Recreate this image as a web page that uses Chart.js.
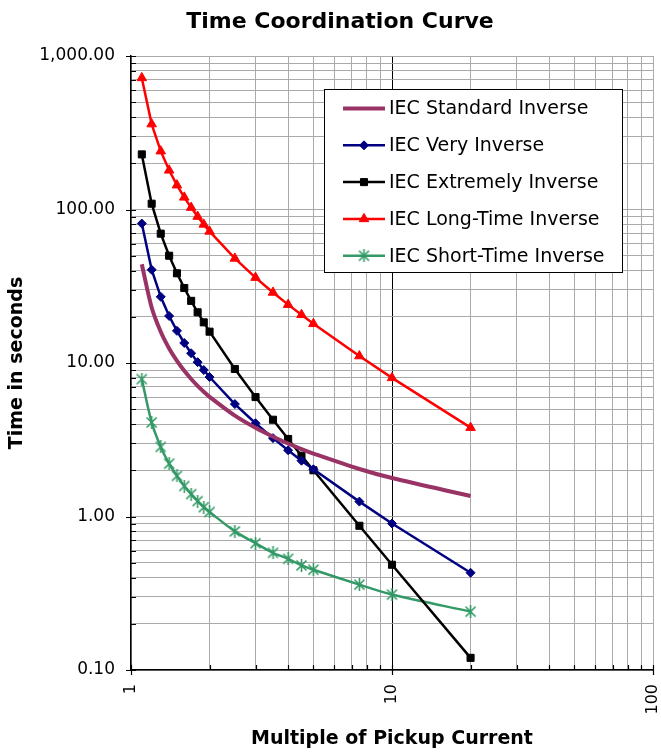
<!DOCTYPE html>
<html><head><meta charset="utf-8">
<script src="https://cdn.jsdelivr.net/npm/chart.js@4.4.1/dist/chart.umd.min.js"></script>
<style>html,body{margin:0;padding:0;background:#fff;}canvas{display:block;}</style>
</head><body>
<canvas id="c" width="661" height="753"></canvas>
<script>
// ---- data ----
const multiples = [1.1,1.2,1.3,1.4,1.5,1.6,1.7,1.8,1.9,2,2.5,3,3.5,4,4.5,5,7.5,10,20];
const standardInverse = [44.0,23.0,15.97,12.44,10.32,8.89,7.87,7.10,6.50,6.02,4.54,3.78,3.31,2.99,2.75,2.57,2.04,1.78,1.36];
const veryInverse = [81,40.5,27,20.25,16.2,13.5,11.57,10.13,9.0,8.1,5.4,4.05,3.24,2.7,2.31,2.03,1.25,0.90,0.43];
const extremelyInverse = [228.6,109.1,69.6,50.0,38.4,30.8,25.4,21.4,18.4,16.0,9.14,6.0,4.27,3.2,2.49,2.0,0.87,0.485,0.12];
const longTimeInverse = [720,360,240,180,144,120,102.9,90,80,72,48,36,28.8,24,20.6,18,11.1,8.0,3.79];
const shortTimeInverse = [7.85,4.10,2.84,2.21,1.84,1.58,1.40,1.26,1.15,1.07,0.80,0.67,0.58,0.53,0.48,0.45,0.36,0.31,0.24];
const seriesNames = ['IEC Standard Inverse','IEC Very Inverse','IEC Extremely Inverse','IEC Long-Time Inverse','IEC Short-Time Inverse'];
const chartTitle = 'Time Coordination Curve';
const xTickValues = [1,10,100];
const xTickLabels = ['1','10','100'];
const yTickValues = [0.1,1,10,100,1000];
const yTickLabels = ['0.10','1.00','10.00','100.00','1,000.00'];

const FONT = "'DejaVu Sans', Verdana, sans-serif";
Chart.defaults.font.family = FONT;
Chart.defaults.color = '#000';

function makeAsterisk(color){
  const s = 13, c = document.createElement('canvas');
  c.width = s; c.height = s;
  const g = c.getContext('2d');
  g.strokeStyle = color; g.lineWidth = 1.6;
  g.beginPath();
  g.moveTo(1.5,1.5); g.lineTo(11.5,11.5);
  g.moveTo(11.5,1.5); g.lineTo(1.5,11.5);
  g.moveTo(6.5,0); g.lineTo(6.5,13);
  g.stroke();
  return c;
}
const asterisk = makeAsterisk('#339966');

function pts(arr){ return multiples.map((m,i)=>({x:m,y:arr[i]})); }
function isDecade(v){ const l = Math.log10(v); return Math.abs(l-Math.round(l))<1e-6; }
function labelFor(v, vals, labs){
  for(let i=0;i<vals.length;i++){ if(Math.abs(Math.log10(v)-Math.log10(vals[i]))<1e-6) return labs[i]; }
  return '';
}
// gridline positions: 1..9 times each decade between the first and last labelled tick
function logGrid(decades){
  const t = [];
  for(let d=0; d<decades.length-1; d++){
    for(let k=1;k<=9;k++) t.push({value: k*decades[d]});
  }
  t.push({value: decades[decades.length-1]});
  return t;
}

const styles = [
  {color:'#993366', width:4, pointStyle:false, radius:0, tension:0.3},
  {color:'#000080', width:2.5, pointStyle:'rectRot', radius:4.5, tension:0},
  {color:'#000000', width:2.5, pointStyle:'rect', radius:5, tension:0},
  {color:'#FF0000', width:2.5, pointStyle:'triangle', radius:5.5, tension:0},
  {color:'#339966', width:2.5, pointStyle:asterisk, radius:6, tension:0.3},
];
const seriesData = [standardInverse, veryInverse, extremelyInverse, longTimeInverse, shortTimeInverse];

const datasets = seriesData.map((arr,i)=>({
  label: seriesNames[i],
  data: pts(arr),
  borderColor: styles[i].color,
  backgroundColor: styles[i].color,
  borderWidth: styles[i].width,
  pointStyle: styles[i].pointStyle,
  pointRadius: styles[i].radius,
  pointBorderWidth: 1,
  pointBorderColor: styles[i].color,
  pointBackgroundColor: styles[i].color,
  tension: styles[i].tension,
  fill: false,
}));

const tickPlugin = {
  id:'axisTicks',
  afterDraw(chart){
    const ctx = chart.ctx, xs = chart.scales.x, ys = chart.scales.y, a = chart.chartArea;
    ctx.save();
    ctx.strokeStyle = '#000'; ctx.lineWidth = 1.2;
    ctx.beginPath();
    ys.ticks.forEach(t=>{
      const y = Math.round(ys.getPixelForValue(t.value))+0.5;
      if(isDecade(t.value)){ ctx.moveTo(a.left-5,y); ctx.lineTo(a.left+5,y); }
      else { ctx.moveTo(a.left,y); ctx.lineTo(a.left+5,y); }
    });
    xs.ticks.forEach(t=>{
      const x = Math.round(xs.getPixelForValue(t.value))+0.5;
      if(isDecade(t.value)){ ctx.moveTo(x,a.bottom-5); ctx.lineTo(x,a.bottom+5); }
      else { ctx.moveTo(x,a.bottom-5); ctx.lineTo(x,a.bottom); }
    });
    ctx.stroke();
    // chart title
    ctx.fillStyle = '#000';
    ctx.font = 'bold 22px ' + FONT;
    ctx.textAlign = 'center'; ctx.textBaseline = 'alphabetic';
    ctx.fillText(chartTitle, 340, 28);
    ctx.restore();
  }
};

const legendPlugin = {
  id:'boxLegend',
  afterDraw(chart){
    const ctx = chart.ctx;
    const bx = 324.5, by = 89.5, bw = 298, bh = 183;
    ctx.save();
    ctx.fillStyle = '#fff'; ctx.fillRect(bx,by,bw,bh);
    ctx.strokeStyle = '#000'; ctx.lineWidth = 1; ctx.strokeRect(bx,by,bw,bh);
    ctx.font = '19px ' + FONT; ctx.textBaseline = 'middle'; ctx.textAlign = 'left';
    chart.data.datasets.forEach((ds,i)=>{
      const y = by + 19 + i*36.8;
      ctx.strokeStyle = ds.borderColor; ctx.lineWidth = ds.borderWidth;
      ctx.beginPath(); ctx.moveTo(343,y); ctx.lineTo(385,y); ctx.stroke();
      if(ds.pointStyle){
        ctx.fillStyle = ds.borderColor; ctx.strokeStyle = ds.borderColor; ctx.lineWidth = 1;
        Chart.helpers.drawPoint(ctx,{pointStyle:ds.pointStyle,radius:ds.pointRadius,rotation:0,borderWidth:1},364,y);
      }
      ctx.fillStyle = '#000';
      ctx.fillText(ds.label, 389, y+1);
    });
    ctx.restore();
  }
};

const GRID = '#aaaaaa';
new Chart(document.getElementById('c'), {
  type:'line',
  data:{datasets},
  options:{
    responsive:false, animation:false, devicePixelRatio:1,
    layout:{padding:{left:0,right:8,top:56,bottom:0}},
    plugins:{
      legend:{display:false}, tooltip:{enabled:false}, title:{display:false}
    },
    scales:{
      x:{type:'logarithmic', min:1, max:100, position:'bottom',
        border:{display:true,color:'#000',width:1.5},
        grid:{drawTicks:false, color:(c)=> (c.tick && Math.abs(c.tick.value-10)<1e-9) ? '#000' : GRID, lineWidth:1},
        ticks:{autoSkip:false, minRotation:90, maxRotation:90, padding:14, font:{size:16},
          callback:(v)=>labelFor(v,xTickValues,xTickLabels)},
        afterBuildTicks:(s)=>{ s.ticks = logGrid(xTickValues); },
        title:{display:true, text:'Multiple of Pickup Current', font:{size:19, weight:'bold'}, padding:{top:0,bottom:3}},
        afterFit:(s)=>{ s.height = 83; s.paddingLeft = 0; s.paddingRight = 0; }
      },
      y:{type:'logarithmic', min:0.1, max:1000, position:'left',
        border:{display:true,color:'#000',width:1.5},
        grid:{drawTicks:false, color:GRID, lineWidth:1},
        ticks:{autoSkip:false, padding:16, font:{size:17},
          callback:(v)=>labelFor(v,yTickValues,yTickLabels)},
        afterBuildTicks:(s)=>{ s.ticks = logGrid(yTickValues); },
        title:{display:true, text:'Time in seconds', font:{size:19, weight:'bold'}, padding:{top:6,bottom:0}},
        afterFit:(s)=>{ s.width = 131; s.paddingTop = 0; s.paddingBottom = 0; }
      }
    }
  },
  plugins:[tickPlugin, legendPlugin]
});
</script>
</body></html>
